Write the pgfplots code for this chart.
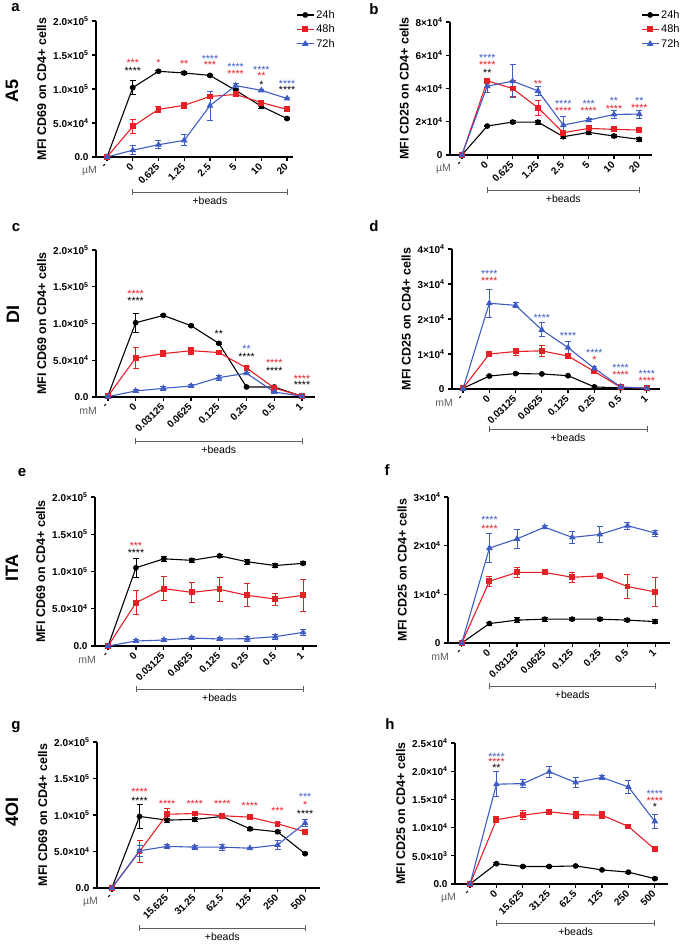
\documentclass[border=0pt]{standalone}
\usepackage{fontspec}
\setmainfont{Liberation Sans}
\usepackage{pgfplots}
\pgfplotsset{compat=1.18}

\definecolor{cred}{RGB}{232,32,38}
\definecolor{cblue}{RGB}{62,92,196}
\definecolor{cgray}{RGB}{95,95,95}

\newcommand{\tx}[1]{×10\textsuperscript{#1}}
% significance stars: x, y, colour, text (box trimmed to the asterisks themselves)
\newcommand{\st}[4]{\node[text=#3, font=\fontsize{10.5}{11}\selectfont, inner sep=0pt] at (axis cs:#1,#2) {\raisebox{-4.4pt}[3pt][0pt]{#4}};}
% +beads bracket below the axis, #1 = offset below the x axis
\newcommand{\beads}[1]{%
  \draw[cgray, line width=0.7pt] ([yshift=-#1+3pt]axis cs:1,0) -- ([yshift=-#1-3pt]axis cs:1,0);
  \draw[cgray, line width=0.7pt] ([yshift=-#1+3pt]axis cs:7,0) -- ([yshift=-#1-3pt]axis cs:7,0);
  \draw[cgray, line width=0.7pt] ([yshift=-#1]axis cs:1,0) -- ([yshift=-#1]axis cs:7,0);
  \node[font=\fontsize{10.5}{12}\selectfont, anchor=north, inner sep=0pt] at ([yshift=-#1-5pt]axis cs:4,0) {+beads};}
\newcommand{\unit}[1]{\node[anchor=east, text=cgray, font=\fontsize{10.5}{12}\selectfont, inner sep=0pt] at ([xshift=1pt, yshift=-14pt]rel axis cs:0,0) {#1};}

\pgfplotsset{
  panel/.style={
    scale only axis, anchor=south west, axis lines*=left, clip=false,
    ymin=0, xtick={0,...,7}, tick align=outside,
    major tick length=4pt,
    axis line style={line width=1.6pt, -},
    major tick style={line width=1.2pt, black},
    tick label style={font=\fontsize{10}{11}\selectfont\bfseries},
    xticklabel style={rotate=45, anchor=east, inner sep=1pt},
    xticklabel shift=3pt,
    scaled y ticks=false,
    ylabel style={font=\fontsize{12.5}{13}\selectfont\bfseries},
  },
  cd69/.style={ymax=200000, ytick={0,50000,100000,150000,200000},
    yticklabels={0.0,5.0\tx{4},1.0\tx{5},1.5\tx{5},2.0\tx{5}},
    ylabel={MFI CD69 on CD4+ cells}},
  cd25/.style={ylabel={MFI CD25 on CD4+ cells}},
  a5/.style={xticklabels={-,0,0.625,1.25,2.5,5,10,20}},
  mm/.style={xticklabels={-,0,0.03125,0.0625,0.125,0.25,0.5,1}},
  oi/.style={xticklabels={-,0,15.625,31.25,62.5,125,250,500}},
  leg/.style={legend style={draw=none, fill=none, font=\fontsize{11}{12}\selectfont,
    anchor=north west, row sep=1pt}, legend cell align=left},
  ebar/.style={error bars/y dir=both, error bars/y explicit,
    error bars/error bar style={line width=0.8pt},
    error bars/error mark options={rotate=90, line width=0.8pt, mark size=3pt}},
  s24/.style={black, line width=1.1pt, mark=*, mark size=2.3pt, mark options={solid}, ebar},
  s48/.style={cred, line width=1.1pt, mark=square*, mark size=2.4pt, mark options={solid}, ebar},
  s72/.style={cblue, line width=1.1pt, mark=triangle*, mark size=2.8pt, mark options={solid}, ebar},
}

\begin{document}
\begin{tikzpicture}
\path[use as bounding box] (0,0) rectangle (685pt,950pt);

% row labels and panel letters
\node[rotate=90, font=\fontsize{18}{20}\selectfont\bfseries] at (12pt,859pt) {A5};
\node[rotate=90, font=\fontsize{18}{20}\selectfont\bfseries] at (13pt,635pt) {DI};
\node[rotate=90, font=\fontsize{18}{20}\selectfont\bfseries] at (12pt,382pt) {ITA};
\node[rotate=90, font=\fontsize{18}{20}\selectfont\bfseries] at (12pt,138pt) {4OI};
\node[font=\fontsize{15}{16}\selectfont\bfseries] at (15.5pt,942pt) {a};
\node[font=\fontsize{15}{16}\selectfont\bfseries] at (374pt,941pt) {b};
\node[font=\fontsize{15}{16}\selectfont\bfseries] at (16pt,722pt) {c};
\node[font=\fontsize{15}{16}\selectfont\bfseries] at (374pt,724pt) {d};
\node[font=\fontsize{15}{16}\selectfont\bfseries] at (22pt,477pt) {e};
\node[font=\fontsize{15}{16}\selectfont\bfseries] at (387pt,480pt) {f};
\node[font=\fontsize{15}{16}\selectfont\bfseries] at (16pt,223pt) {g};
\node[font=\fontsize{15}{16}\selectfont\bfseries] at (390pt,226pt) {h};

% ---- a ----
\begin{axis}[panel, cd69, a5, leg, legend style={at={(1.0,1.11)}},
  at={(96pt,793pt)}, width=197pt, height=136pt, xmin=-0.43, xmax=7.23]
\addplot[s24] coordinates {(0,0) (1,102000)+-(0,10000) (2,126000)+-(0,2000) (3,123500)+-(0,2500)
  (4,120000)+-(0,2000) (5,98000)+-(0,2000) (6,74500)+-(0,3500) (7,56500)+-(0,1500)};
\addplot[s48] coordinates {(0,0) (1,45000)+-(0,11000) (2,70000)+-(0,4500) (3,76000)+-(0,4000)
  (4,89000)+-(0,3500) (5,92000)+-(0,2500) (6,80000)+-(0,2500) (7,70000)+-(0,1500)};
\addplot[s72] coordinates {(0,0) (1,10000)+-(0,6500) (2,18000)+-(0,6000) (3,24500)+-(0,8000)
  (4,75500)+-(0,21500) (5,105000)+-(0,3500) (6,98000)+-(0,2000) (7,86000)+-(0,1500)};
\legend{24h,48h,72h}
\st{1}{142000}{cred}{***} \st{1}{130000}{black}{****}
\st{2}{142000}{cred}{*} \st{3}{140000}{cred}{**}
\st{4}{147000}{cblue}{****} \st{4}{139000}{cred}{***}
\st{5}{136000}{cblue}{****} \st{5}{126000}{cred}{****}
\st{6}{131000}{cblue}{****} \st{6}{122000}{cred}{**} \st{6}{110000}{black}{*}
\st{7}{111000}{cblue}{****} \st{7}{102000}{black}{****}
\beads{35pt} \unit{µM}
\end{axis}

% ---- b ----
\begin{axis}[panel, cd25, a5, leg, legend style={at={(0.93,1.12)}},
  at={(450pt,795pt)}, width=202pt, height=133pt, xmin=-0.47, xmax=7.5,
  ymax=80000, ytick={0,20000,40000,60000,80000},
  yticklabels={0,2\tx{4},4\tx{4},6\tx{4},8\tx{4}}]
\addplot[s24] coordinates {(0,0) (1,17400)+-(0,500) (2,19800)+-(0,800) (3,19800)+-(0,1200)
  (4,11000)+-(0,800) (5,13600)+-(0,1000) (6,11400)+-(0,1000) (7,9400)+-(0,1000)};
\addplot[s48] coordinates {(0,0) (1,44600)+-(0,1000) (2,40000)+-(0,5000) (3,28400)+-(0,4500)
  (4,13400)+-(0,1000) (5,16000)+-(0,1000) (6,15400)+-(0,1500) (7,15000)+-(0,1500)};
\addplot[s72] coordinates {(0,0) (1,41400)+-(0,3800) (2,44400)+-(0,10000) (3,38600)+-(0,2500)
  (4,18000)+-(0,5000) (5,21000)+-(0,1000) (6,24400)+-(0,2500) (7,24600)+-(0,2500)};
\legend{24h,48h,72h}
\st{1}{60000}{cblue}{****} \st{1}{55400}{cred}{****} \st{1}{50600}{black}{**}
\st{3}{44000}{cred}{**}
\st{4}{32400}{cblue}{****} \st{4}{28000}{cred}{****}
\st{5}{32400}{cblue}{***} \st{5}{28000}{cred}{****}
\st{6}{34000}{cblue}{**} \st{6}{29400}{cred}{****}
\st{7}{34000}{cblue}{**} \st{7}{30000}{cred}{****}
\beads{35pt} \unit{µM}
\end{axis}

% ---- c ----
\begin{axis}[panel, cd69, mm,
  at={(96pt,553pt)}, width=219pt, height=147pt, xmin=-0.43, xmax=7.47]
\addplot[s24] coordinates {(0,1500) (1,101000)+-(0,13000) (2,111000)+-(0,2000) (3,97000)+-(0,1500)
  (4,73000)+-(0,1500) (5,13600) (6,13600) (7,1000)};
\addplot[s48] coordinates {(0,1000) (1,53000)+-(0,14500) (2,59000)+-(0,4000) (3,63000)+-(0,4500)
  (4,60500)+-(0,2000) (5,39500)+-(0,1500) (6,12300)+-(0,1000) (7,1000)};
\addplot[s72] coordinates {(0,500) (1,8200)+-(0,2500) (2,11800)+-(0,2500) (3,15000)+-(0,1500)
  (4,26400)+-(0,3500) (5,32300)+-(0,1500) (6,6800)+-(0,1000) (7,1000)};
\st{1}{144000}{cred}{****} \st{1}{134000}{black}{****}
\st{4}{88600}{black}{**}
\st{5}{68000}{cblue}{**} \st{5}{57000}{black}{****}
\st{6}{50000}{cred}{****} \st{6}{38600}{black}{****}
\st{7}{28000}{cred}{****} \st{7}{19000}{black}{****}
\beads{44pt} \unit{mM}
\end{axis}

% ---- d ----
\begin{axis}[panel, cd25, mm,
  at={(452pt,561pt)}, width=208pt, height=140pt, xmin=-0.42, xmax=7.5,
  ymax=40000, ytick={0,10000,20000,30000,40000},
  yticklabels={0,1\tx{4},2\tx{4},3\tx{4},4\tx{4}}]
\addplot[s24] coordinates {(0,200) (1,3700)+-(0,300) (2,4400)+-(0,200) (3,4300)+-(0,200)
  (4,3800)+-(0,200) (5,600) (6,300) (7,200)};
\addplot[s48] coordinates {(0,200) (1,10000)+-(0,500) (2,10700)+-(0,1000) (3,10900)+-(0,1500)
  (4,9400)+-(0,800) (5,5000)+-(0,500) (6,500) (7,200)};
\addplot[s72] coordinates {(0,100) (1,24500)+-(0,4000) (2,23900)+-(0,700) (3,16900)+-(0,2000)
  (4,11800)+-(0,1700) (5,5900)+-(0,600) (6,600) (7,200)};
\st{1}{33600}{cblue}{****} \st{1}{31500}{cred}{****}
\st{3}{20900}{cblue}{****} \st{4}{15700}{cblue}{****}
\st{5}{10900}{cblue}{****} \st{5}{9100}{cred}{*}
\st{6}{6600}{cblue}{****} \st{6}{4700}{cred}{****}
\st{7}{5000}{cblue}{****} \st{7}{3100}{cred}{****}
\beads{40pt} \unit{mM}
\end{axis}

% ---- e ----
\begin{axis}[panel, cd69, mm,
  at={(95pt,304pt)}, width=222pt, height=149pt, xmin=-0.47, xmax=7.5]
\addplot[s24] coordinates {(0,0) (1,105000)+-(0,13000) (2,117000)+-(0,3000) (3,115000)+-(0,3000)
  (4,121000)+-(0,1500) (5,113000)+-(0,3000) (6,108000)+-(0,3000) (7,111000)+-(0,2000)};
\addplot[s48] coordinates {(0,0) (1,58000)+-(0,16000) (2,77000)+-(0,16000) (3,72000)+-(0,13000)
  (4,76000)+-(0,16000) (5,68000)+-(0,15500) (6,63000)+-(0,8000) (7,68000)+-(0,21000)};
\addplot[s72] coordinates {(0,0) (1,6700)+-(0,2000) (2,8000)+-(0,2500) (3,10700)+-(0,2500)
  (4,9400)+-(0,2500) (5,9800)+-(0,3000) (6,12500)+-(0,3000) (7,18300)+-(0,4000)};
\st{1}{138000}{cred}{***} \st{1}{128000}{black}{****}
\beads{43pt} \unit{mM}
\end{axis}

% ---- f ----
\begin{axis}[panel, cd25, mm,
  at={(448pt,307pt)}, width=222pt, height=146pt, xmin=-0.5, xmax=7.54,
  ymax=30000, ytick={0,10000,20000,30000},
  yticklabels={0,1\tx{4},2\tx{4},3\tx{4}}]
\addplot[s24] coordinates {(0,0) (1,4000)+-(0,300) (2,4700)+-(0,500) (3,4900)+-(0,400)
  (4,4900)+-(0,300) (5,4900)+-(0,300) (6,4700)+-(0,300) (7,4400)+-(0,400)};
\addplot[s48] coordinates {(0,0) (1,12700)+-(0,1000) (2,14500)+-(0,1000) (3,14500)+-(0,500)
  (4,13500)+-(0,1000) (5,13800)+-(0,500) (6,11600)+-(0,2500) (7,10500)+-(0,2900)};
\addplot[s72] coordinates {(0,0) (1,19500)+-(0,3000) (2,21400)+-(0,2000) (3,23800)+-(0,300)
  (4,21700)+-(0,1300) (5,22300)+-(0,1700) (6,24100)+-(0,700) (7,22600)+-(0,600)};
\st{1}{25700}{cblue}{****} \st{1}{24000}{cred}{****}
\beads{43pt} \unit{mM}
\end{axis}

% ---- g ----
\begin{axis}[panel, cd69, oi,
  at={(97pt,62pt)}, width=223pt, height=146pt, xmin=-0.54, xmax=7.54]
\addplot[s24] coordinates {(0,0) (1,98000)+-(0,17000) (2,93000)+-(0,3000) (3,94000)+-(0,3000)
  (4,98000)+-(0,2000) (5,81000)+-(0,1500) (6,77000)+-(0,1500) (7,47000)+-(0,1500)};
\addplot[s48] coordinates {(0,0) (1,50000)+-(0,15000) (2,101000)+-(0,8000) (3,102000)+-(0,1500)
  (4,99000)+-(0,1500) (5,97000)+-(0,1500) (6,88000)+-(0,1500) (7,77000)+-(0,1500)};
\addplot[s72] coordinates {(0,0) (1,51000)+-(0,8000) (2,57000)+-(0,3000) (3,56000)+-(0,3000)
  (4,56000)+-(0,4000) (5,54500)+-(0,1500) (6,59000)+-(0,6000) (7,89000)+-(0,5000)};
\st{1}{135000}{cred}{****} \st{1}{122000}{black}{****}
\st{2}{119000}{cred}{****} \st{3}{119000}{cred}{****}
\st{4}{118000}{cred}{****} \st{5}{116000}{cred}{****}
\st{6}{109000}{cred}{***}
\st{7}{128000}{cblue}{***} \st{7}{117000}{cred}{*} \st{7}{105000}{black}{****}
\beads{40pt} \unit{µM}
\end{axis}

% ---- h ----
\begin{axis}[panel, cd25, oi,
  at={(455pt,66pt)}, width=213pt, height=141pt, xmin=-0.57, xmax=7.5,
  ymax=25000, ytick={0,5000,10000,15000,20000,25000},
  yticklabels={0.0,5.0\tx{3},1.0\tx{4},1.5\tx{4},2.0\tx{4},2.5\tx{4}}]
\addplot[s24] coordinates {(0,0) (1,3600)+-(0,150) (2,3100)+-(0,150) (3,3100)+-(0,200)
  (4,3200)+-(0,150) (5,2500)+-(0,150) (6,2100)+-(0,150) (7,950)+-(0,150)};
\addplot[s48] coordinates {(0,0) (1,11400)+-(0,500) (2,12200)+-(0,800) (3,12800)+-(0,300)
  (4,12300)+-(0,600) (5,12200)+-(0,600) (6,10200)+-(0,300) (7,6150)+-(0,200)};
\addplot[s72] coordinates {(0,0) (1,17700)+-(0,2200) (2,17800)+-(0,700) (3,19900)+-(0,1000)
  (4,18000)+-(0,900) (5,18900)+-(0,400) (6,17200)+-(0,1200) (7,11100)+-(0,1200)};
\st{1}{22900}{cblue}{****} \st{1}{22000}{cred}{****} \st{1}{21000}{black}{**}
\st{7}{16400}{cblue}{****} \st{7}{15200}{cred}{****} \st{7}{14100}{black}{*}
\beads{39pt} \unit{µM}
\end{axis}
\end{tikzpicture}
\end{document}
